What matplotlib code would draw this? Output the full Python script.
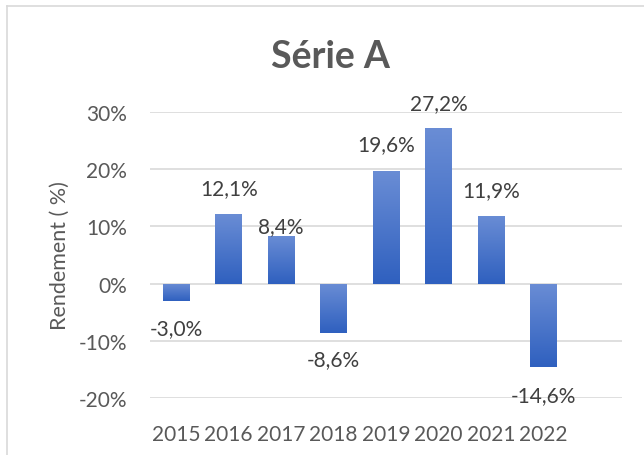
import numpy as np
import matplotlib
matplotlib.use('Agg')
import matplotlib.pyplot as plt
from matplotlib.colors import LinearSegmentedColormap
from matplotlib.lines import Line2D
from matplotlib.ticker import PercentFormatter

# Data
years = ['2015', '2016', '2017', '2018', '2019', '2020', '2021', '2022']
returns = [-3.0, 12.1, 8.4, -8.6, 19.6, 27.2, 11.9, -14.6]
# label offset from bar end, in pixels (positive = up)
label_dy = [-27, 26, 9, -26, 27, 25, 25, -28]

plt.rcParams['font.family'] = ['Lato', 'DejaVu Sans']
plt.rcParams['axes.unicode_minus'] = False

fig = plt.figure(figsize=(6.44, 4.56), dpi=100)
ax = fig.add_axes([150/644, 57/456, 472/644, 286/456])

x = np.arange(len(years))
bars = ax.bar(x, returns, width=0.51, color='none', zorder=3)

# vertical gradient fill, lighter at the top
grad = LinearSegmentedColormap.from_list('g', ['#2f60bf', '#6a8dd5'])
g = np.linspace(0, 1, 256).reshape(-1, 1)
for b in bars:
    x0, y0 = b.get_x(), b.get_y()
    w, h = b.get_width(), b.get_height()
    lo, hi = min(y0, y0 + h), max(y0, y0 + h)
    im = ax.imshow(g, cmap=grad, aspect='auto', origin='lower',
                   extent=[x0, x0 + w, lo, hi], zorder=3)
    im.set_clip_path(b)

for xi, v, dy in zip(x, returns, label_dy):
    ax.annotate(f'{v:.1f}%'.replace('.', ','), (xi, v), xytext=(0, dy),
                textcoords='offset pixels', ha='center', va='center',
                fontsize=15, color='#404040', zorder=4)

ax.set_xlim(-0.5, 8.5)
ax.set_ylim(-20, 30)
ax.set_yticks([-20, -10, 0, 10, 20, 30])
ax.yaxis.set_major_formatter(PercentFormatter(decimals=0))
ax.set_xticks(x)
ax.set_xticklabels(years)
ax.grid(axis='y', color='#d9d9d9', linewidth=1.2, zorder=0)
for s in ax.spines.values():
    s.set_visible(False)
ax.tick_params(length=0, labelsize=15, colors='#595959')
ax.tick_params(axis='y', pad=16.5)
ax.tick_params(axis='x', pad=19)
ax.set_ylabel('Rendement ( %)', fontsize=15.5, color='#595959', labelpad=6)

fig.text(330/644, 1 - 57/456, 'Série A', ha='center', va='center',
         fontsize=27, fontweight='bold', color='#595959')

# chart border (left and top edges visible)
fig.add_artist(Line2D([7/644, 7/644], [0, 1 - 7/456], color='#d9d9d9', lw=1.2))
fig.add_artist(Line2D([7/644, 1], [1 - 7/456, 1 - 7/456], color='#d9d9d9', lw=1.2))

fig.savefig('out.png', dpi=100)
